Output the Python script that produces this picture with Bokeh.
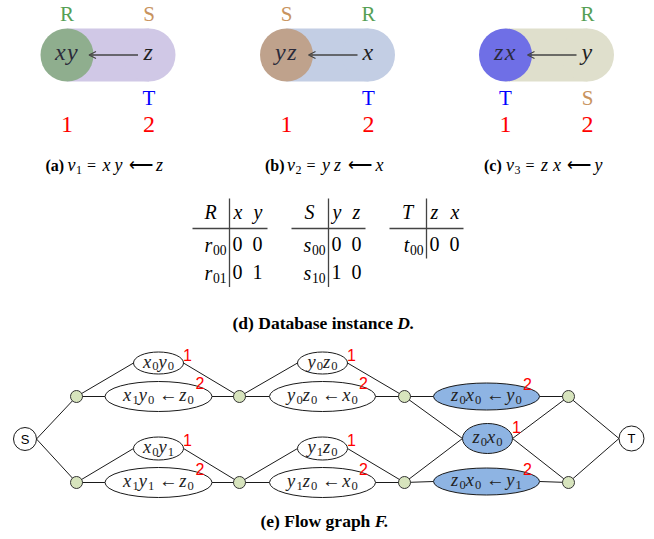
from bokeh.plotting import figure
from bokeh.models import Range1d, Arrow, OpenHead
from bokeh.core.properties import value
from bokeh.embed import file_html
from bokeh.resources import INLINE

SERIF = "Liberation Serif"
SANS = "Liberation Sans"

# ---------------- data: views (a)-(c) ----------------
view_tags = ["(a)", "(b)", "(c)"]
view_index = ["1", "2", "3"]
view_heads = ["xy", "yz", "zx"]
view_tails = ["z", "x", "y"]
head_colors = ["#8fae8e", "#bfa28c", "#6f6fe6"]
body_colors = ["#d0c8e6", "#c3cee4", "#dfdfcc"]
top_left = ["R", "S", ""]
top_right = ["S", "R", "R"]
bot_left = ["", "", "T"]
bot_right = ["T", "T", "S"]
rel_colors = {"R": "#55a055", "S": "#c8935e", "T": "#0000ff", "": "#000000"}
pos_labels = ["1", "2"]

# ---------------- data: database instance ----------------
relations = ["R", "S", "T"]
attributes = [["x", "y"], ["y", "z"], ["z", "x"]]
tuple_ids = [["r\u2080\u2080", "r\u2080\u2081"], ["s\u2080\u2080", "s\u2081\u2080"], ["t\u2080\u2080"]]
tuple_vals = [[["0", "0"], ["0", "1"]], [["0", "0"], ["1", "0"]], [["0", "0"]]]

# ---------------- data: flow graph ----------------
node_labels = ["x\u2080y\u2080", "x\u2081y\u2080 \u2190 z\u2080", "x\u2080y\u2081", "x\u2081y\u2081 \u2190 z\u2080",
               "y\u2080z\u2080", "y\u2080z\u2080 \u2190 x\u2080", "y\u2081z\u2080", "y\u2081z\u2080 \u2190 x\u2080",
               "z\u2080x\u2080 \u2190 y\u2080", "z\u2080x\u2080", "z\u2080x\u2080 \u2190 y\u2081"]
node_weights = ["1", "2", "1", "2", "1", "2", "1", "2", "2", "1", "2"]

# ---------------- figure ----------------
W, H = 654, 539
p = figure(width=W, height=H, output_backend="svg", toolbar_location=None,
           x_range=Range1d(0, W), y_range=Range1d(H, 0),
           x_axis_type=None, y_axis_type=None, min_border=0)
p.grid.visible = False
p.outline_line_color = None
p.background_fill_color = "white"


def txt(x, y, t, size, font=SERIF, style="normal", color="#000000", align="center"):
    p.text(x=[x], y=[y], text=[t], text_font=value(font), text_font_size=value(f"{size}px"),
           text_font_style=style, text_color=color, text_align=align, text_baseline="middle")


SUBS = {"\u2080": "0", "\u2081": "1", "\u2082": "2", "\u2083": "3"}
IT_W = {"x": .444, "y": .444, "z": .389, "v": .444, "r": .389, "s": .389, "t": .278}
UP_W = {" ": .25, "\u2190": .85, "=": .564}


def draw_math(x, mid_y, label, size, align="center", color="#222222", track=0.06):
    sub_size = round(size * 0.68, 1)
    toks = []
    for ch in label:
        if ch in SUBS:
            toks.append((SUBS[ch], "sub", .5 * sub_size))
        elif ch in IT_W:
            toks.append((ch, "it", IT_W[ch] * size + track * size))
        else:
            toks.append((ch, "up", UP_W.get(ch, .5) * size))
    total = sum(t[2] for t in toks)
    if align == "center":
        cur = x - total / 2
    elif align == "right":
        cur = x - total
    else:
        cur = x
    groups = {"it": ([], [], []), "sub": ([], [], []), "up": ([], [], [])}
    for t, kind, w in toks:
        if t.strip():
            gx, gy, gt = groups[kind]
            gx.append(cur)
            gy.append(mid_y + (0.26 * size if kind == "sub" else 0))
            gt.append(t)
        cur += w
    for kind, (gx, gy, gt) in groups.items():
        if not gx:
            continue
        p.text(x=gx, y=gy, text=gt, text_font=value(SERIF),
               text_font_size=value(f"{sub_size if kind == 'sub' else size}px"),
               text_font_style="italic" if kind == "it" else "normal",
               text_color=color, text_align="left", text_baseline="middle")


# ---------------- views ----------------
view_cx = [66.5, 286, 505]
body_len = 82
cy, r = 54.5, 26.5
for i in range(3):
    cx = view_cx[i]
    rx = cx + body_len
    p.rect(x=[(cx + rx) / 2], y=[cy], width=body_len, height=2 * r, fill_color=body_colors[i], line_color=None)
    p.circle(x=[rx], y=[cy], radius=r, fill_color=body_colors[i], line_color=None)
    p.circle(x=[cx], y=[cy], radius=r, fill_color=head_colors[i], line_color=None)
    p.add_layout(Arrow(end=OpenHead(size=7, line_color="#444444", line_width=1.2),
                       x_start=rx - 11, y_start=cy, x_end=cx + 22, y_end=cy,
                       line_color="#444444", line_width=1.3))
    draw_math(cx, 51, view_heads[i], 24, color="#2a2a3a")
    draw_math(rx, 51, view_tails[i], 24, color="#222222")
    txt(cx, 13, top_left[i], 21, color=rel_colors[top_left[i]])
    txt(rx, 13, top_right[i], 21, color=rel_colors[top_right[i]])
    txt(cx, 97, bot_left[i], 21, color=rel_colors[bot_left[i]])
    txt(rx, 97, bot_right[i], 21, color=rel_colors[bot_right[i]])
    txt(cx, 123.5, pos_labels[0], 24, color="#ff0000")
    txt(rx, 123.5, pos_labels[1], 24, color="#ff0000")
    # caption  (x) v_i = h <- t
    txt(cx - 21.5, 165, view_tags[i], 16, style="bold", align="left")
    txt(cx + 0.5, 164, "v", 18, style="italic", align="left")
    txt(cx + 9, 169, view_index[i], 12, align="left")
    txt(cx + 20, 165, "=", 16, align="left")
    txt(cx + 35.5, 164, view_heads[i][0], 18, style="italic", align="left")
    txt(cx + 47.5, 164, view_heads[i][1], 18, style="italic", align="left")
    txt(cx + 73.5, 165, "\u27f5", 17, align="center")
    txt(cx + 89, 164, view_tails[i], 18, style="italic", align="left")

# ---------------- database tables ----------------
tab_vline = [229, 328, 426]
tab_left = [192, 291, 389]
tab_right = [267, 365, 463]
hdr_y, hline_y = 211, 228
row_y = [243, 271.5]
for k in range(3):
    vx = tab_vline[k]
    nrows = len(tuple_ids[k])
    p.segment(x0=[tab_left[k]], y0=[hline_y], x1=[tab_right[k]], y1=[hline_y], line_color="#444444", line_width=1.3)
    p.segment(x0=[vx], y0=[198], x1=[vx], y1=[row_y[nrows - 1] + 15], line_color="#444444", line_width=1.3)
    txt(vx - 19, hdr_y, relations[k], 20, style="italic")
    txt(vx + 4, hdr_y, attributes[k][0], 20, style="italic", align="left")
    txt(vx + 24, hdr_y, attributes[k][1], 20, style="italic", align="left")
    for j in range(nrows):
        draw_math(vx - 3, row_y[j] + 1, tuple_ids[k][j], 20, align="right", color="#000000", track=0.03)
        txt(vx + 3, row_y[j], tuple_vals[k][j][0], 20, align="left")
        txt(vx + 23, row_y[j], tuple_vals[k][j][1], 20, align="left")
txt(232, 322, "(d) Database instance ", 17.5, style="bold", align="left")
txt(232 + 9.416 * 17.5, 322, "D.", 17.5, style="bold italic", align="left")

# ---------------- flow graph ----------------
S_c, T_c = (24.5, 438.5), (631, 438)
col_nodes = [[(76, 396), (76, 482)], [(239, 396), (239, 482)], [(404, 396), (404, 482)], [(568, 396), (568, 482)]]
ell_x = [158, 158, 158, 158, 322, 322, 322, 322, 486, 487, 486]
ell_y = [362.5, 396, 448, 482, 362.5, 396, 448, 482, 396, 438, 481]
ell_w = [50, 107, 50, 107, 50, 106, 50, 106, 106, 50, 106]
ell_h = [22, 30, 23, 30, 22, 30, 23, 30, 27, 30, 27]
ell_fill = ["white"] * 8 + ["#8eb4e3"] * 3
ell_left_nodes = [[(0, 0)], [(0, 0)], [(0, 1)], [(0, 1)],
                  [(1, 0)], [(1, 0)], [(1, 1)], [(1, 1)],
                  [(2, 0)], [(2, 0), (2, 1)], [(2, 1)]]
ell_right_nodes = [[(1, 0)], [(1, 0)], [(1, 1)], [(1, 1)],
                   [(2, 0)], [(2, 0)], [(2, 1)], [(2, 1)],
                   [(3, 0)], [(3, 0), (3, 1)], [(3, 1)]]
x0s, y0s, x1s, y1s = [], [], [], []
for e in range(len(ell_x)):
    lx, rx = ell_x[e] - ell_w[e] / 2, ell_x[e] + ell_w[e] / 2
    for (c, n) in ell_left_nodes[e]:
        nx, ny = col_nodes[c][n]
        x0s.append(nx); y0s.append(ny); x1s.append(lx); y1s.append(ell_y[e])
    for (c, n) in ell_right_nodes[e]:
        nx, ny = col_nodes[c][n]
        x0s.append(rx); y0s.append(ell_y[e]); x1s.append(nx); y1s.append(ny)
for n in range(2):
    x0s.append(S_c[0] + 11.5); y0s.append(S_c[1]); x1s.append(col_nodes[0][n][0]); y1s.append(col_nodes[0][n][1])
    x0s.append(col_nodes[3][n][0]); y0s.append(col_nodes[3][n][1]); x1s.append(T_c[0] - 12.5); y1s.append(T_c[1])
p.segment(x0=x0s, y0=y0s, x1=x1s, y1=y1s, line_color="#1a1a1a", line_width=1)

p.ellipse(x=ell_x, y=ell_y, width=ell_w, height=ell_h, fill_color=ell_fill, line_color="#1a1a1a", line_width=1)
for e in range(len(ell_x)):
    draw_math(ell_x[e], ell_y[e] - 1.5, node_labels[e], 18.5, color="#222222", track=0.06)
wx = [ex + ew / 2 + 4 if ew < 60 else ex + ew / 2 - 12 for ex, ew in zip(ell_x, ell_w)]
wy = [ey - eh / 2 + 3 if ew < 60 else ey - eh / 2 + 1 for ey, eh, ew in zip(ell_y, ell_h, ell_w)]
p.text(x=wx, y=wy, text=node_weights, text_font=value(SANS), text_font_size=value("16px"),
       text_color="#ff0000", text_align="center", text_baseline="middle")

gx = [c[n][0] for c in col_nodes for n in range(2)]
gy = [c[n][1] for c in col_nodes for n in range(2)]
p.scatter(x=gx, y=gy, size=12, fill_color="#d7e4bd", line_color="#333333", line_width=1)
p.circle(x=[S_c[0], T_c[0]], y=[S_c[1], T_c[1]], radius=[11.5, 12.5], fill_color="white", line_color="#1a1a1a")
txt(S_c[0], S_c[1], "S", 13, font=SANS)
txt(T_c[0], T_c[1], "T", 13, font=SANS)
txt(260, 520, "(e) Flow graph ", 17.5, style="bold", align="left")
txt(260 + 6.527 * 17.5, 520, "F.", 17.5, style="bold italic", align="left")

open("out.html", "w").write(file_html(p, INLINE))
